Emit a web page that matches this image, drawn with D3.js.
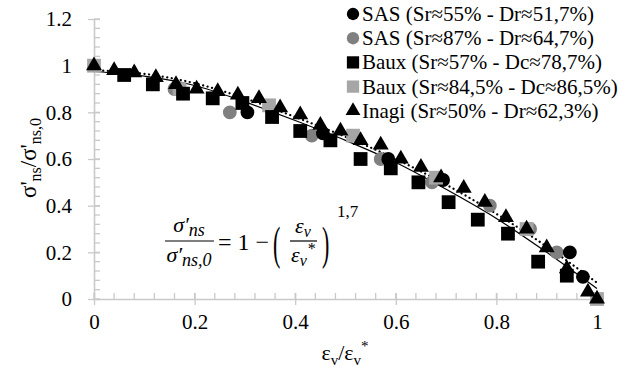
<!DOCTYPE html>
<html><head><meta charset="utf-8">
<script src="https://cdn.jsdelivr.net/npm/d3@7"></script>
</head><body style="margin:0;background:#fff">
<svg id="c" width="633" height="371"></svg>
<script>
// ---- data ----
const sas55X = [0.305, 0.455, 0.585, 0.694, 0.946, 0.972];
const sas55Y = [0.80, 0.71, 0.60, 0.51, 0.20, 0.095];
const sas87X = [0.16, 0.27, 0.433, 0.57, 0.672, 0.787, 0.867, 0.92];
const sas87Y = [0.90, 0.80, 0.70, 0.60, 0.50, 0.40, 0.30, 0.20];
const baux57X = [0.06, 0.117, 0.177, 0.236, 0.295, 0.354, 0.41, 0.47, 0.53, 0.59, 0.645, 0.705, 0.763, 0.823, 0.883, 0.94];
const baux57Y = [0.96, 0.92, 0.88, 0.86, 0.84, 0.78, 0.72, 0.68, 0.60, 0.56, 0.50, 0.415, 0.34, 0.28, 0.16, 0.10];
const baux84X = [0, 0.17, 0.348, 0.515, 0.68, 0.86, 1.0];
const baux84Y = [1.0, 0.90, 0.83, 0.70, 0.52, 0.30, 0.0];
const inagiX = [0, 0.04, 0.08, 0.123, 0.163, 0.204, 0.246, 0.286, 0.328, 0.37, 0.41, 0.45, 0.49, 0.53, 0.57, 0.61, 0.65, 0.69, 0.735, 0.777, 0.819, 0.86, 0.90, 0.94, 0.982, 1.0];
const inagiY = [1.0, 0.98, 0.97, 0.95, 0.92, 0.90, 0.89, 0.875, 0.86, 0.82, 0.79, 0.745, 0.72, 0.68, 0.66, 0.60, 0.565, 0.52, 0.475, 0.415, 0.35, 0.30, 0.22, 0.13, 0.03, 0.0];
// trend lines
const fitX = [0, 0.1, 0.2, 0.3, 0.4, 0.5, 0.6, 0.7, 0.8, 0.9, 1.0];
const fitSolidY = [0.975, 0.955, 0.915, 0.845, 0.765, 0.68, 0.585, 0.47, 0.345, 0.20, 0.045];
const fitDotY = [0.98, 0.965, 0.925, 0.86, 0.78, 0.695, 0.60, 0.49, 0.365, 0.225, 0.07];
const xTicks = [0, 0.2, 0.4, 0.6, 0.8, 1];
const xTickLabels = ["0", "0.2", "0.4", "0.6", "0.8", "1"];
const yTicks = [0, 0.2, 0.4, 0.6, 0.8, 1, 1.2];
const yTickLabels = ["0", "0.2", "0.4", "0.6", "0.8", "1", "1.2"];
const legendLabels = ["SAS (Sr≈55% - Dr≈51,7%)", "SAS (Sr≈87% - Dr≈64,7%)", "Baux (Sr≈57% - Dc≈78,7%)", "Baux (Sr≈84,5% - Dc≈86,5%)", "Inagi (Sr≈50% - Dr≈62,3%)"];

const FONT = "Liberation Serif";
const svg = d3.select("#c");
const x = d3.scaleLinear().domain([0, 1]).range([94, 597]);
const y = d3.scaleLinear().domain([0, 1.2]).range([299, 19]);
const axisCol = "#c9c9c9";
const ff = s => s.attr("font-family", FONT).style("font-family", FONT);

// minor ticks
const g = svg.append("g");
d3.range(0, 1.2001, 0.04).forEach(v => {
  g.append("line").attr("x1", x(0)).attr("x2", x(0) + 6).attr("y1", y(v)).attr("y2", y(v)).attr("stroke", axisCol).attr("stroke-width", 1.3);
});
d3.range(0, 1.0001, 0.04).forEach(v => {
  g.append("line").attr("x1", x(v)).attr("x2", x(v)).attr("y1", y(0)).attr("y2", y(0) - 6).attr("stroke", axisCol).attr("stroke-width", 1.3);
});
// axes with major ticks
const yAxis = d3.axisLeft(y).tickValues(yTicks).tickFormat((d, i) => yTickLabels[i]).tickSizeInner(6).tickSizeOuter(0).tickPadding(16);
const xAxis = d3.axisBottom(x).tickValues(xTicks).tickFormat((d, i) => xTickLabels[i]).tickSizeInner(6).tickSizeOuter(0).tickPadding(9);
const ya = svg.append("g").attr("transform", `translate(${x(0)},0)`).call(yAxis);
const xa = svg.append("g").attr("transform", `translate(0,${y(0)})`).call(xAxis);
[ya, xa].forEach(a => {
  ff(a).attr("font-size", 21);
  a.select(".domain").attr("stroke", axisCol).attr("stroke-width", 1.6);
  a.selectAll(".tick line").attr("stroke", axisCol).attr("stroke-width", 1.3);
  ff(a.selectAll(".tick text")).attr("fill", "#000").attr("font-size", 21);
});
ya.selectAll(".tick line").attr("x1", 6);
xa.selectAll(".tick line").attr("y1", -6);

// trend lines
const lineGen = d3.line().x(d => x(d[0])).y(d => y(d[1])).curve(d3.curveMonotoneX);
svg.append("path").datum(fitX.map((v, i) => [v, fitSolidY[i]])).attr("d", lineGen)
  .attr("fill", "none").attr("stroke", "#000").attr("stroke-width", 1.2);
svg.append("path").datum(fitX.map((v, i) => [v, fitDotY[i]])).attr("d", lineGen)
  .attr("fill", "none").attr("stroke", "#000").attr("stroke-width", 2.2)
  .attr("stroke-dasharray", "0.1 4.5").attr("stroke-linecap", "round");

// markers
const sym = (type, size) => d3.symbol().type(type).size(size)();
function series(xs, ys, type, size, color) {
  svg.append("g").selectAll("path").data(xs.map((v, i) => [v, ys[i]])).join("path")
    .attr("d", sym(type, size)).attr("fill", color)
    .attr("transform", d => `translate(${x(d[0])},${y(d[1])})`);
}
series(sas87X, sas87Y, d3.symbolCircle, 150, "#808080");
series(sas55X, sas55Y, d3.symbolCircle, 150, "#000");
series(baux84X, baux84Y, d3.symbolSquare, 190, "#a6a6a6");
series(baux57X, baux57Y, d3.symbolSquare, 190, "#000");
series(inagiX, inagiY, d3.symbolTriangle, 110, "#000");

// legend
const legTypes = [d3.symbolCircle, d3.symbolCircle, d3.symbolSquare, d3.symbolSquare, d3.symbolTriangle];
const legSizes = [120, 120, 150, 150, 95];
const legCols = ["#000", "#808080", "#000", "#a6a6a6", "#000"];
const leg = svg.append("g");
legendLabels.forEach((t, i) => {
  const yy = 14 + i * 24.2;
  leg.append("path").attr("d", sym(legTypes[i], legSizes[i])).attr("fill", legCols[i]).attr("transform", `translate(353,${yy})`);
  ff(leg.append("text")).attr("x", 362).attr("y", yy + 7).attr("font-size", 21).text(t);
});

// axis titles
ff(svg.append("text")).attr("x", 345).attr("y", 360).attr("text-anchor", "middle").attr("font-size", 22)
  .html('ε<tspan dy="5" font-size="15">v</tspan><tspan dy="-5">/ε</tspan><tspan dy="5" font-size="15">v</tspan><tspan dy="-14" font-size="15">*</tspan>');
ff(svg.append("text")).attr("transform", "translate(36,158) rotate(-90)").attr("text-anchor", "middle").attr("font-size", 23)
  .html('σ\'<tspan dy="5" font-size="16">ns</tspan><tspan dy="-5">/σ\'</tspan><tspan dy="5" font-size="16">ns,0</tspan>');

// formula
const f = svg.append("g");
const it = s => ff(s).attr("font-style", "italic");
it(f.append("text")).attr("x", 189).attr("y", 232).attr("text-anchor", "middle").attr("font-size", 22)
  .html('σ′<tspan dy="4" font-size="18">ns</tspan>');
f.append("line").attr("x1", 165).attr("x2", 214).attr("y1", 241).attr("y2", 241).attr("stroke", "#000").attr("stroke-width", 1.2);
it(f.append("text")).attr("x", 189).attr("y", 262).attr("text-anchor", "middle").attr("font-size", 22)
  .html('σ′<tspan dy="4" font-size="18">ns,0</tspan>');
ff(f.append("text")).attr("x", 218).attr("y", 250).attr("font-size", 24).text("= 1 −");
ff(f.append("text")).attr("x", 273).attr("y", 259).attr("font-size", 22)
  .attr("transform", "translate(273,259) scale(1,2.1) translate(-273,-259)").text("(");
it(f.append("text")).attr("x", 303).attr("y", 233).attr("text-anchor", "middle").attr("font-size", 22)
  .html('ε<tspan dy="4" font-size="16">v</tspan>');
f.append("line").attr("x1", 290).attr("x2", 317).attr("y1", 241).attr("y2", 241).attr("stroke", "#000").attr("stroke-width", 1.2);
it(f.append("text")).attr("x", 303).attr("y", 262).attr("text-anchor", "middle").attr("font-size", 22)
  .html('ε<tspan dy="4" font-size="16">v</tspan><tspan dy="-12" font-size="16">*</tspan>');
ff(f.append("text")).attr("x", 322).attr("y", 259).attr("font-size", 22)
  .attr("transform", "translate(322,259) scale(1,2.1) translate(-322,-259)").text(")");
ff(f.append("text")).attr("x", 337).attr("y", 217).attr("font-size", 17).text("1,7");
</script>
</body></html>
